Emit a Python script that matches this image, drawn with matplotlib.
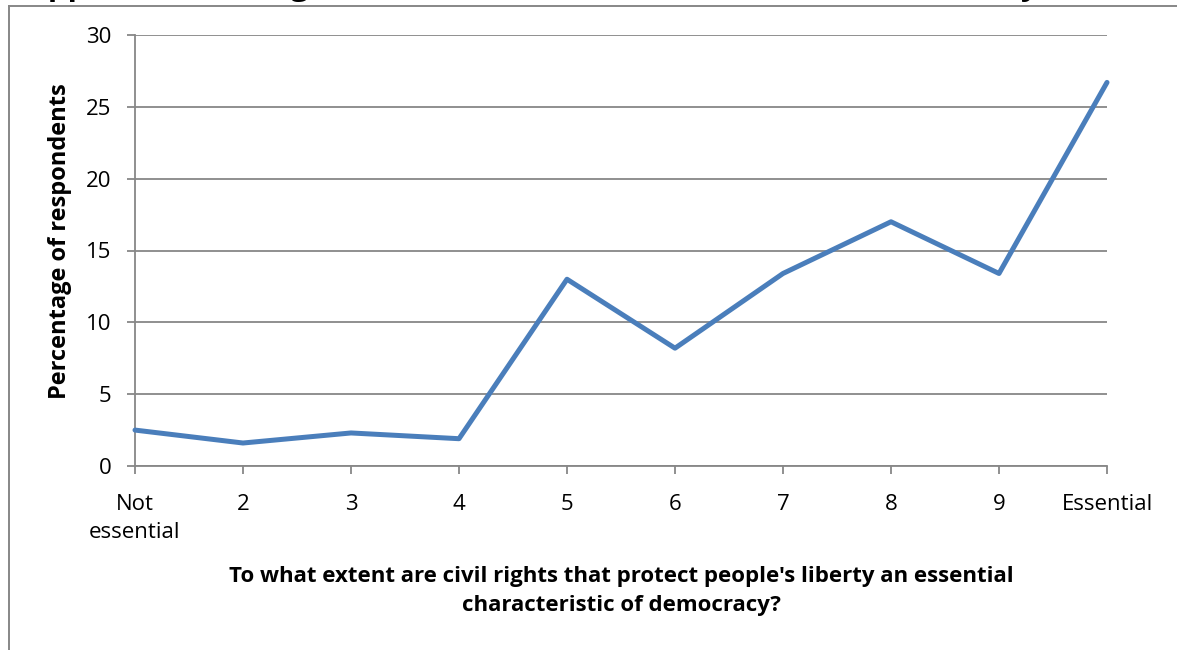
import matplotlib
matplotlib.use("Agg")
import matplotlib.pyplot as plt
from matplotlib.lines import Line2D

# Survey responses: share of respondents per rating on a 1-10 scale
categories = ["Not\nessential", "2", "3", "4", "5", "6", "7", "8", "9", "Essential"]
percentages = [2.5, 1.6, 2.3, 1.9, 13.0, 8.2, 13.4, 17.0, 13.4, 26.7]
y_ticks = [0, 5, 10, 15, 20, 25, 30]

title = "Support for civil rights as an essential characteristic of democracy (%)"
y_label = "Percentage of respondents"
x_label = ("To what extent are civil rights that protect people's liberty an essential\n"
           "characteristic of democracy?")

FONT = "Open Sans"
GRID = "#878787"
LINE = "#4A7EBB"

W, H = 1177, 650
fig = plt.figure(figsize=(W / 100, H / 100), dpi=100)
fig.patch.set_facecolor("white")

# chart frame (partially outside the canvas)
fig.add_artist(Line2D([9 / W, 9 / W], [0, 1 - 6 / H], transform=fig.transFigure,
                      color=GRID, lw=1.4))
fig.add_artist(Line2D([9 / W, 1], [1 - 6 / H, 1 - 6 / H], transform=fig.transFigure,
                      color=GRID, lw=1.4))

# title sits above the frame
fig.text(10 / W, 1 + 5.0 / H, title, fontsize=22.5, fontweight="bold", family=FONT,
         ha="left", va="baseline", color="black")

left, right, top, bottom = 135, 1107, 35, 466
ax = fig.add_axes([left / W, 1 - bottom / H, (right - left) / W, (bottom - top) / H])

x = list(range(len(categories)))
ax.plot(x, percentages, color=LINE, lw=3.6, solid_joinstyle="round",
        solid_capstyle="round", clip_on=False, zorder=3)

ax.set_xlim(0, len(categories) - 1)
ax.set_ylim(0, 30)
ax.set_yticks(y_ticks)
ax.set_xticks(x)
ax.set_xticklabels(categories, family=FONT, fontsize=16, linespacing=1.45)
ax.set_yticklabels([str(v) for v in y_ticks], family=FONT, fontsize=16)

ax.yaxis.grid(True, color=GRID, lw=1.3)
ax.set_axisbelow(True)
for s in ["top", "right"]:
    ax.spines[s].set_visible(False)
for s in ["left", "bottom"]:
    ax.spines[s].set_color(GRID)
    ax.spines[s].set_linewidth(1.3)
ax.tick_params(axis="both", direction="out", length=6, width=1.3, color=GRID)
ax.tick_params(axis="y", pad=11)
ax.tick_params(axis="x", pad=14)

fig.text(60 / W, 1 - 241 / H, y_label, rotation=90, fontsize=17, fontweight="bold",
         family=FONT, ha="center", va="center")
fig.text(621 / W, 1 - 591 / H, x_label, fontsize=16, fontweight="bold", family=FONT,
         ha="center", va="center", linespacing=1.55)

fig.savefig("out.png", dpi=100)
